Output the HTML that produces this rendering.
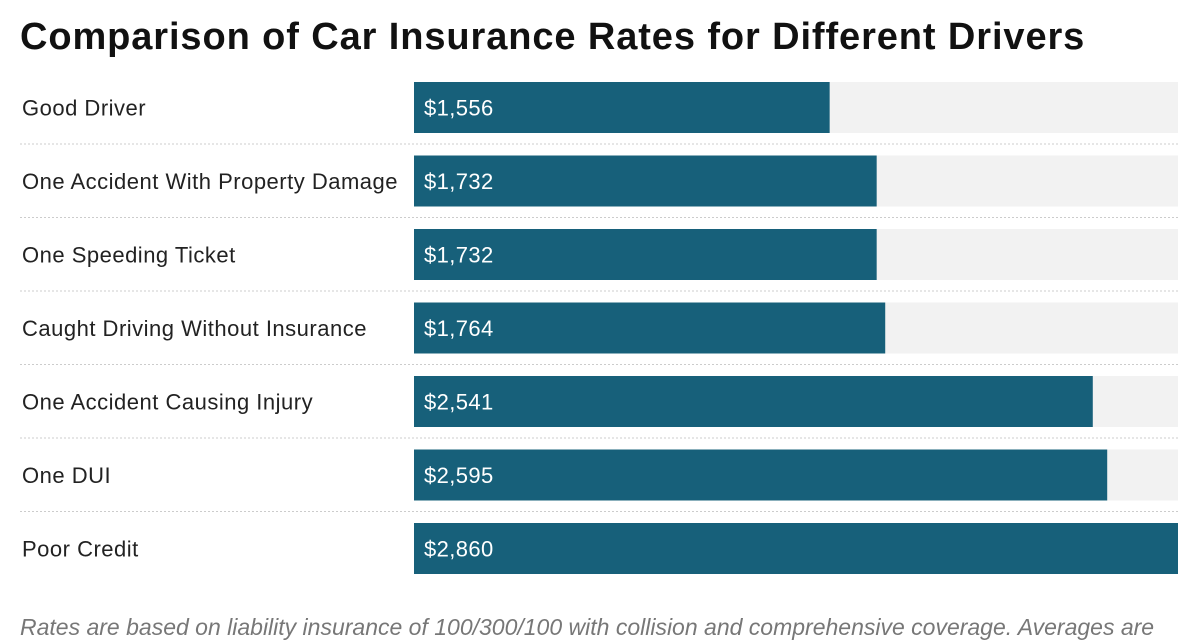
<!DOCTYPE html>
<html><head><meta charset="utf-8"><style>
body{margin:0;width:1200px;height:630px;overflow:hidden;background:#fff;font-family:"Liberation Sans",sans-serif;position:relative}
#title{position:absolute;left:20px;top:16px;font-size:38px;font-weight:bold;color:#111;letter-spacing:0.9px;white-space:nowrap}
#note{position:absolute;left:20px;top:614px;font-size:23px;font-style:italic;color:#777;white-space:nowrap}
svg{position:absolute;left:0;top:0}
</style></head><body>
<div id="title">Comparison of Car Insurance Rates for Different Drivers</div>
<svg id="chart" width="1200" height="630"></svg>
<div id="note">Rates are based on liability insurance of 100/300/100 with collision and comprehensive coverage. Averages are</div>
<script>
const categories=["Good Driver","One Accident With Property Damage","One Speeding Ticket","Caught Driving Without Insurance","One Accident Causing Injury","One DUI","Poor Credit"];
const values=[1556,1732,1732,1764,2541,2595,2860];
const labels=["$1,556","$1,732","$1,732","$1,764","$2,541","$2,595","$2,860"];
const maxVal=2860;
const ns="http://www.w3.org/2000/svg";
const svg=document.getElementById('chart');
const x0=414,x1=1178,top0=82,pitch=73.5,bh=51;
const xs=v=>(v/maxVal)*(x1-x0);
function mk(t,a){const e=document.createElementNS(ns,t);for(const k in a)e.setAttribute(k,a[k]);svg.appendChild(e);return e;}
categories.forEach((c,i)=>{
  const y=top0+i*pitch;
  const bg=mk('rect',{x:x0,y:y,width:x1-x0,height:bh,fill:'#f2f2f2'});
  
  
  const b=mk('rect',{x:x0,y:y,width:xs(values[i]),height:bh,fill:'#17607a'});
  
  
  const v=mk('text',{x:x0+10,y:y+bh/2+8,fill:'#fff','font-size':22,'letter-spacing':'0.4'});
  v.textContent=labels[i];
  
  
  const l=mk('text',{x:22,y:y+bh/2+8,fill:'#222','font-size':22,'letter-spacing':'0.5'});
  l.textContent=c;
  
  
  if(i<categories.length-1){
    const s=mk('line',{x1:20,x2:1178,y1:y+bh+11,y2:y+bh+11,stroke:'#ccc','stroke-dasharray':'2,2'});
    
    
  }
});
</script>
</body></html>
